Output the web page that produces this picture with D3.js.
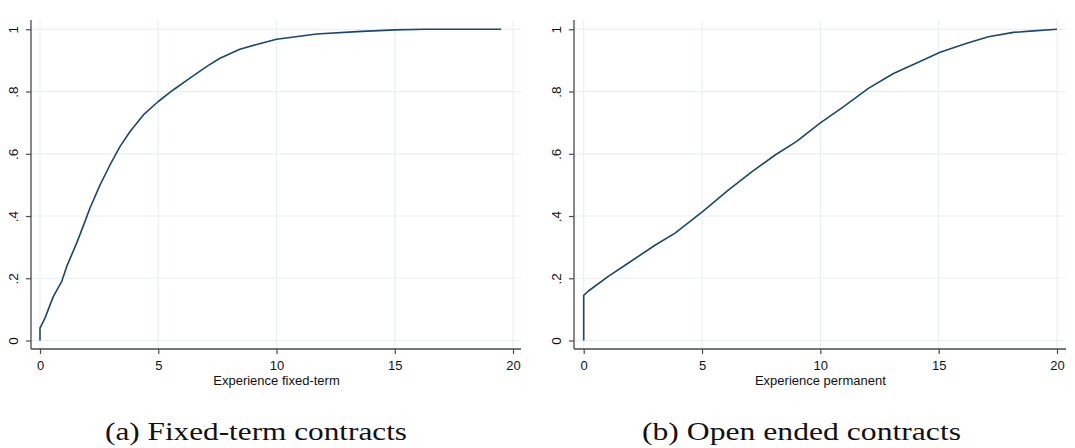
<!DOCTYPE html>
<html>
<head>
<meta charset="utf-8">
<script src="https://cdn.jsdelivr.net/npm/d3@7"></script>
<style>
  html, body { margin: 0; padding: 0; background: #fff; }
  svg { display: block; }
</style>
</head>
<body>
<svg id="chart" width="1075" height="448"></svg>
<script>
// Cumulative distribution of experience (years), fixed-term contracts
const fixedExp = [0, 0, 0.21, 0.56, 0.92, 1.13, 1.55, 1.9, 2.11, 2.54, 2.96, 3.38, 3.8, 4.37, 5.0, 5.63, 6.34, 7.04, 7.61, 8.45, 9.2, 10.0, 11.7, 13.4, 15.0, 16.3, 19.5];
const fixedCdf = [0, 0.04, 0.072, 0.141, 0.19, 0.238, 0.313, 0.382, 0.425, 0.50, 0.564, 0.623, 0.671, 0.725, 0.768, 0.805, 0.843, 0.88, 0.907, 0.936, 0.952, 0.968, 0.985, 0.9925, 0.998, 1.0, 1.0];

// Cumulative distribution of experience (years), open ended contracts
const permExp = [0, 0, 0.2, 1.04, 1.89, 3.01, 3.86, 5.01, 6.11, 7.1, 8.09, 9.0, 10.0, 10.97, 12.03, 13.09, 14.07, 15.06, 16.19, 17.1, 18.16, 19.0, 20.0];
const permCdf = [0, 0.145, 0.159, 0.206, 0.249, 0.306, 0.345, 0.413, 0.483, 0.542, 0.596, 0.640, 0.699, 0.751, 0.81, 0.858, 0.892, 0.926, 0.955, 0.976, 0.99, 0.995, 1.0];

const xTicks = [0, 5, 10, 15, 20];
const yTicks = [0, 0.2, 0.4, 0.6, 0.8, 1];
const yTickLabels = ["0", ".2", ".4", ".6", ".8", "1"];

const xTitles = ["Experience fixed-term", "Experience permanent"];
const captions = ["(a) Fixed-term contracts", "(b) Open ended contracts"];

const svg = d3.select("#chart");
const lineColor = "#1a476f";
const gridColor = "#e8f0f2";
const axisColor = "#4a4a4a";
const sans = "'Liberation Sans', Arial, sans-serif";

const panels = [
  { frameLeft: 31, frameRight: 521, x0: 40, x1: 513, xs: fixedExp, ys: fixedCdf, title: xTitles[0], caption: captions[0], capX: 256, capW: 302 },
  { frameLeft: 574, frameRight: 1066, x0: 583.7, x1: 1057, xs: permExp, ys: permCdf, title: xTitles[1], caption: captions[1], capX: 801.5, capW: 319 }
];

const frameTop = 20, frameBottom = 349;

panels.forEach(p => {
  const x = d3.scaleLinear().domain([0, 20]).range([p.x0, p.x1]);
  const y = d3.scaleLinear().domain([0, 1]).range([340.5, 29.3]);
  const g = svg.append("g");

  // grid
  g.selectAll(".hgrid").data(yTicks).join("line")
    .attr("x1", p.frameLeft).attr("x2", p.frameRight)
    .attr("y1", d => y(d)).attr("y2", d => y(d))
    .attr("stroke", gridColor).attr("stroke-width", 1.2);
  g.selectAll(".vgrid").data(xTicks).join("line")
    .attr("x1", d => x(d)).attr("x2", d => x(d))
    .attr("y1", frameTop).attr("y2", frameBottom)
    .attr("stroke", gridColor).attr("stroke-width", 1.2);

  // y axis
  const yAxis = d3.axisLeft(y).tickValues(yTicks)
    .tickFormat((d, i) => yTickLabels[i]).tickSize(5).tickSizeOuter(0);
  const ya = g.append("g").attr("transform", `translate(${p.frameLeft},0)`).call(yAxis);
  ya.select(".domain").attr("d", `M0,${frameTop}V${frameBottom}`);
  ya.selectAll(".tick text")
    .attr("x", null).attr("dy", null)
    .attr("transform", "translate(-13,0) rotate(-90)")
    .attr("text-anchor", "middle")
    .style("font-family", sans).style("font-size", "13.5px").attr("fill", "#111");

  // x axis
  const xAxis = d3.axisBottom(x).tickValues(xTicks).tickSize(5).tickSizeOuter(0);
  const xa = g.append("g").attr("transform", `translate(0,${frameBottom})`).call(xAxis);
  xa.select(".domain").attr("d", `M${p.frameLeft},0H${p.frameRight}`);
  xa.selectAll(".tick text")
    .attr("y", 21).attr("dy", null)
    .style("font-family", sans).style("font-size", "13px").attr("fill", "#111");

  [ya, xa].forEach(a => {
    a.select(".domain").attr("stroke", axisColor).attr("stroke-width", 1.3);
    a.selectAll(".tick line").attr("stroke", axisColor).attr("stroke-width", 1.2);
  });

  // axis title
  g.append("text")
    .attr("x", x(10)).attr("y", 384.5)
    .attr("text-anchor", "middle")
    .style("font-family", sans).style("font-size", "13px").attr("fill", "#111")
    .text(p.title);

  // CDF curve
  const pts = p.xs.map((v, i) => [v, p.ys[i]]);
  const line = d3.line().x(d => x(d[0])).y(d => y(d[1]));
  g.append("path").datum(pts)
    .attr("d", line)
    .attr("fill", "none")
    .attr("stroke", lineColor)
    .attr("stroke-width", 1.6)
    .attr("stroke-linejoin", "round");

  // caption below panel
  g.append("text")
    .attr("x", p.capX).attr("y", 440)
    .attr("text-anchor", "middle")
    .attr("textLength", p.capW).attr("lengthAdjust", "spacingAndGlyphs")
    .style("font-family", "'Liberation Serif', 'DejaVu Serif', serif")
    .style("font-size", "26px").attr("fill", "#111")
    .text(p.caption);
});
</script>
</body>
</html>
